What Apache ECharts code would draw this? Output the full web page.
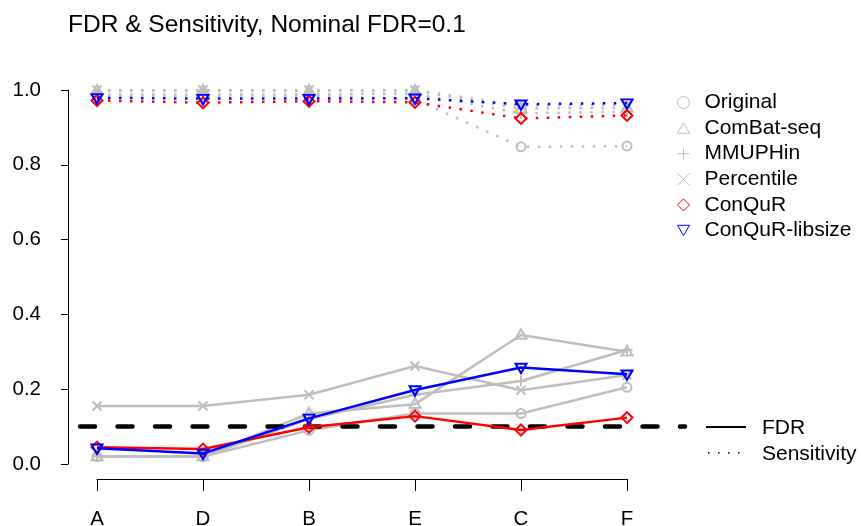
<!DOCTYPE html>
<html>
<head>
<meta charset="utf-8">
<script src="https://cdn.jsdelivr.net/npm/echarts@6/dist/echarts.min.js"></script>
<style>html,body{margin:0;padding:0;background:#fff}#c{width:861px;height:526px}</style>
</head>
<body>
<div id="c"></div>
<script>
// ---- data ----
var categories = ['A', 'D', 'B', 'E', 'C', 'F'];
var methods = ['Original', 'ComBat-seq', 'MMUPHin', 'Percentile', 'ConQuR', 'ConQuR-libsize'];
var yTicks = [0, 0.2, 0.4, 0.6, 0.8, 1.0];
var nominalFDR = 0.1;

var fdrOriginal   = [0.020, 0.020, 0.090, 0.135, 0.135, 0.205];
var fdrCombat     = [0.020, 0.020, 0.135, 0.160, 0.345, 0.300];
var fdrMMUPHin    = [0.020, 0.020, 0.120, 0.185, 0.222, 0.305];
var fdrPercentile = [0.155, 0.155, 0.185, 0.262, 0.197, 0.238];
var fdrConqur     = [0.045, 0.040, 0.098, 0.128, 0.091, 0.124];
var fdrLibsize    = [0.042, 0.028, 0.122, 0.198, 0.258, 0.240];

var sensOriginal   = [0.985, 0.985, 0.985, 0.975, 0.848, 0.850];
var sensCombat     = [0.998, 0.998, 0.998, 0.998, 0.950, 0.952];
var sensMMUPHin    = [0.988, 0.988, 0.988, 0.990, 0.938, 0.942];
var sensPercentile = [1.000, 1.000, 1.000, 1.000, 0.958, 0.960];
var sensConqur     = [0.972, 0.966, 0.970, 0.967, 0.924, 0.932];
var sensLibsize    = [0.979, 0.977, 0.977, 0.978, 0.962, 0.965];

var fdrData  = [fdrOriginal, fdrCombat, fdrMMUPHin, fdrPercentile, fdrConqur, fdrLibsize];
var sensData = [sensOriginal, sensCombat, sensMMUPHin, sensPercentile, sensConqur, sensLibsize];

// ---- styles ----
var FONT = 'Liberation Sans, Arial, Helvetica, sans-serif';
var colors = ['#BEBEBE', '#BEBEBE', '#BEBEBE', '#BEBEBE', '#FF0000', '#0000FF'];
var symbols = [
  'circle',
  'path://M5,0L10,8.66L0,8.66Z',
  'path://M5,0L5,10M0,5L10,5',
  'path://M0,0L10,10M10,0L0,10',
  'path://M5,0L10,5L5,10L0,5Z',
  'path://M0,0L10,0L5,8.66Z'
];
var sizes = [[9, 9], [11, 9.5], [11, 11], [9, 9], [11, 11], [11, 9.5]];
var offsets = [[0, 0], [0, -1], [0, 0], [0, 0], [0, 0], [0, 1]];

function pts(arr) { return arr.map(function (v, i) { return [i, v]; }); }

var series = [];
methods.forEach(function (m, k) {
  [['fdr', fdrData[k]], ['sens', sensData[k]]].forEach(function (pair) {
    series.push({
      name: m,
      type: 'line',
      xAxisIndex: 0, yAxisIndex: 0,
      data: pts(pair[1]),
      symbol: symbols[k],
      symbolSize: sizes[k],
      symbolOffset: offsets[k],
      showAllSymbol: true,
      itemStyle: { color: 'rgba(0,0,0,0)', borderColor: colors[k], borderWidth: 2 },
      lineStyle: pair[0] === 'fdr'
        ? { color: colors[k], width: 2.5, type: 'solid' }
        : { color: colors[k], width: 2.5, type: [2.5, 8.5], cap: 'butt' },
      emphasis: { disabled: true },
      z: k >= 4 ? 3 + k : 2
    });
  });
});
series.push({
  name: 'nominal', type: 'line', xAxisIndex: 1, yAxisIndex: 1,
  data: [[0, nominalFDR], [1, nominalFDR]], symbol: 'none',
  lineStyle: { color: '#000', width: 4.5, type: [15, 22.5], cap: 'round' },
  emphasis: { disabled: true }, z: 6
});

var option = {
  animation: false,
  backgroundColor: '#fff',
  title: {
    text: 'FDR & Sensitivity, Nominal FDR=0.1',
    left: 63, top: 8,
    textStyle: { fontFamily: FONT, fontSize: 24.5, fontWeight: 'normal', color: '#000' }
  },
  legend: {
    orient: 'vertical', left: 672, top: 87,
    itemWidth: 12, itemHeight: 12, itemGap: 4.6,
    selectedMode: false,
    textStyle: { fontFamily: FONT, fontSize: 21, color: '#000', padding: [0, 0, 0, 10], lineHeight: 21 },
    data: methods.map(function (m, k) {
      return { name: m, icon: symbols[k],
        itemStyle: { color: 'rgba(0,0,0,0)', borderColor: colors[k], borderWidth: 1 } };
    })
  },
  grid: [
    { left: 97, right: 234, top: 90, bottom: 62, outerBoundsMode: 'none', containLabel: false },
    { left: 80, right: 176, top: 90, bottom: 62, outerBoundsMode: 'none', containLabel: false },
    { left: 68, right: 234, top: 90, bottom: 62, outerBoundsMode: 'none', containLabel: false }
  ],
  xAxis: [
    { type: 'value', gridIndex: 0, min: 0, max: categories.length - 1, interval: 1, offset: 15,
      axisLine: { show: true, onZero: false, lineStyle: { color: '#000', width: 1 } },
      axisTick: { show: true, length: 12, lineStyle: { color: '#000' } },
      axisLabel: { margin: 30, fontFamily: FONT, fontSize: 20.5, color: '#000',
        formatter: function (v) { return categories[v] || ''; } },
      splitLine: { show: false } },
    { type: 'value', gridIndex: 1, min: 0, max: 1, show: false },
    { type: 'value', gridIndex: 2, min: 0, max: 1, show: false }
  ],
  yAxis: [
    { type: 'value', gridIndex: 0, min: 0, max: 1, show: false },
    { type: 'value', gridIndex: 1, min: 0, max: 1, show: false },
    { type: 'value', gridIndex: 2, min: yTicks[0], max: yTicks[yTicks.length - 1], interval: 0.2,
      position: 'left',
      axisLine: { show: true, onZero: false, lineStyle: { color: '#000', width: 1 } },
      axisTick: { show: true, length: 7, lineStyle: { color: '#000' } },
      axisLabel: { margin: 27, fontFamily: FONT, fontSize: 20.5, color: '#000',
        formatter: function (v) { return v.toFixed(1); } },
      splitLine: { show: false } }
  ],
  graphic: [
    { type: 'circle', shape: { cx: 680, cy: 427, r: 1.5 }, style: { fill: '#000' } },
    { type: 'line', shape: { x1: 706, y1: 427, x2: 746, y2: 427 }, style: { stroke: '#000', lineWidth: 2 } },
    { type: 'line', shape: { x1: 708, y1: 453, x2: 746, y2: 453 }, style: { stroke: '#000', lineWidth: 1.5, lineDash: [1.5, 8.5] } },
    { type: 'text', left: 762, top: 418, style: { text: 'FDR', font: '21px ' + FONT, fill: '#000' } },
    { type: 'text', left: 762, top: 444, style: { text: 'Sensitivity', font: '21px ' + FONT, fill: '#000' } }
  ],
  series: series
};
echarts.init(document.getElementById('c'), null, { renderer: 'canvas' }).setOption(option);
</script>
</body>
</html>
